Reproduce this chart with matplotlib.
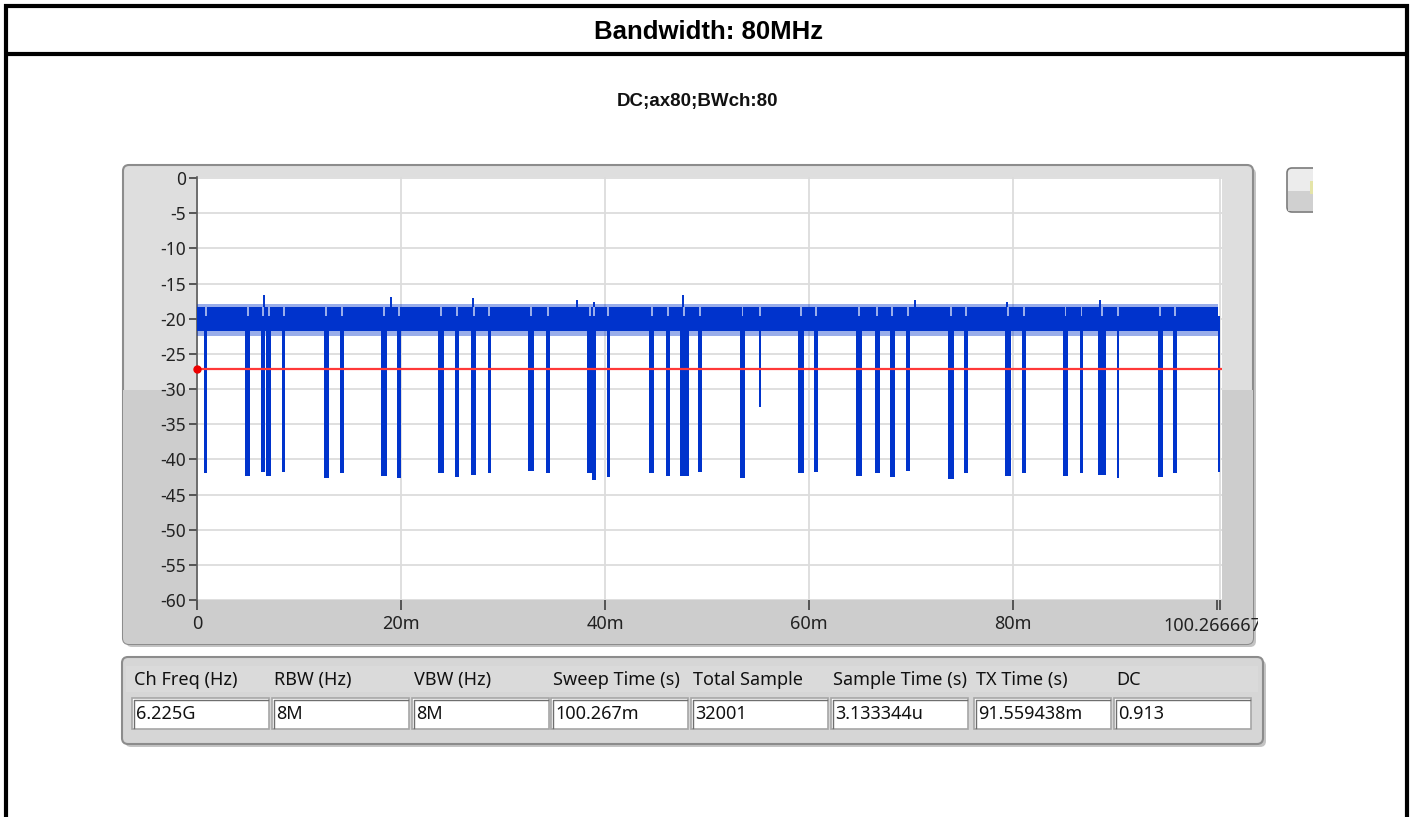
import numpy as np
import matplotlib.pyplot as plt
from matplotlib.patches import FancyBboxPatch, Rectangle
from matplotlib.transforms import Bbox, TransformedBbox

# ---- data ----
title = "Bandwidth: 80MHz"
subtitle = "DC;ax80;BWch:80"

sweep_ms = 100.266667
threshold_db = -27.2

# noise band of the trace (dB): dense core and fuzzy fringe
band_top = -18.4
band_mid = -19.6
band_bot = -21.8
fringe_top = -17.9
fringe_bot = -22.5

# dips: centre (ms), width (ms), lowest value (dB)
dip_ms = [0.85, 4.96, 6.48, 7.04, 8.51, 12.68, 14.21, 18.31, 19.78, 23.92,
          25.45, 27.11, 28.64, 32.72, 34.38, 38.48, 38.95, 40.32, 44.56, 46.13,
          47.75, 49.30, 53.47, 55.17, 59.18, 60.65, 64.89, 66.66, 68.15, 69.72,
          73.87, 75.40, 79.50, 81.04, 85.12, 86.69, 88.70, 90.27, 94.42, 95.89,
          100.19]
dip_w = [0.32, 0.55, 0.38, 0.50, 0.26, 0.55, 0.38, 0.55, 0.38, 0.55,
         0.38, 0.55, 0.32, 0.55, 0.38, 0.55, 0.38, 0.32, 0.55, 0.38,
         0.85, 0.38, 0.55, 0.22, 0.55, 0.38, 0.55, 0.50, 0.50, 0.38,
         0.60, 0.42, 0.55, 0.38, 0.55, 0.38, 0.70, 0.18, 0.50, 0.38,
         0.16]
dip_low = [-42.0, -42.3, -41.8, -42.3, -41.8, -42.6, -42.0, -42.3, -42.6, -41.9,
           -42.5, -42.2, -41.9, -41.7, -42.0, -42.0, -43.0, -42.5, -42.0, -42.3,
           -42.3, -41.8, -42.6, -32.6, -42.0, -41.8, -42.3, -42.0, -42.5, -41.6,
           -42.8, -42.0, -42.3, -42.0, -42.3, -42.0, -42.2, -42.6, -42.5, -42.0,
           -41.8]

# tall spikes above the band: position (ms), peak (dB)
spike_ms = [6.56, 18.99, 27.10, 37.20, 38.90, 47.60, 70.40, 79.40, 88.55]
spike_peak = [-16.6, -16.9, -17.1, -17.4, -17.6, -16.6, -17.4, -17.6, -17.4]

x_ticks = [0, 20, 40, 60, 80, 100]
x_labels = ["0", "20m", "40m", "60m", "80m", ""]
y_ticks = list(range(-60, 1, 5))

col_names = ["Ch Freq (Hz)", "RBW (Hz)", "VBW (Hz)", "Sweep Time (s)",
             "Total Sample", "Sample Time (s)", "TX Time (s)", "DC"]
col_values = ["6.225G", "8M", "8M", "100.267m", "32001", "3.133344u",
              "91.559438m", "0.913"]

BLUE = "#0033CC"
RED = "#FF3838"
W, H = 1413, 817
ui_font = "Noto Sans"

fig = plt.figure(figsize=(W / 100, H / 100), dpi=100)
fig.patch.set_facecolor("white")

# background layer in pixel coordinates
bg = fig.add_axes([0, 0, 1, 1])
bg.set_xlim(0, W)
bg.set_ylim(H, 0)
bg.axis("off")

# outer black frame
for xs, ys in [([6, 6], [4, H]), ([1407, 1407], [4, H]),
               ([4, 1409], [6, 6]), ([4, 1409], [54, 54])]:
    bg.plot(xs, ys, color="black", lw=3.0, solid_capstyle="butt")

bg.text(708, 32, title, ha="center", va="center", fontsize=18.5,
        fontweight="bold", family="Liberation Sans")
bg.text(697, 101, subtitle, ha="center", va="center", fontsize=13.5,
        fontweight="bold", family="Liberation Sans", color="#111111")

# graph panel
bg.add_patch(FancyBboxPatch((126, 168), 1130, 479, boxstyle="round,pad=0,rounding_size=6",
                            fc="#C4C4C4", ec="none"))
panel = FancyBboxPatch((123, 165), 1130, 479, boxstyle="round,pad=0,rounding_size=6",
                       fc="#DEDEDE", ec="#8C8C8C", lw=1.5)
bg.add_patch(panel)
low = Rectangle((123, 390), 1130, 254, fc="#CDCDCD", ec="none")
bg.add_patch(low)
low.set_clip_path(panel)
bg.add_patch(Rectangle((196, 600), 1026, 44, fc="#CDCDCD", ec="none"))

# button stub at top right
bg.add_patch(FancyBboxPatch((1287, 168), 60, 44, boxstyle="round,pad=0,rounding_size=5",
                            fc="#ECECEC", ec="#7A7A7A", lw=1.2))
bg.add_patch(Rectangle((1288, 191), 58, 20, fc="#D0D0D0", ec="none"))
bg.add_patch(Rectangle((1310, 181), 3, 13, fc="#E4E4A8", ec="none"))
bg.add_patch(Rectangle((1313, 160), 90, 60, fc="white", ec="none", zorder=5))

# table panel
bg.add_patch(FancyBboxPatch((125, 660), 1141, 87, boxstyle="round,pad=0,rounding_size=6",
                            fc="#C4C4C4", ec="none"))
bg.add_patch(FancyBboxPatch((122, 657), 1141, 87, boxstyle="round,pad=0,rounding_size=6",
                            fc="#D6D6D6", ec="#8C8C8C", lw=1.5))
bg.add_patch(Rectangle((126, 666), 1132, 26, fc="#DADADA", ec="none"))
col_x = [132, 272, 412, 551, 691, 831, 974, 1114]
for cx, name, val in zip(col_x, col_names, col_values):
    bg.text(cx + 2, 680, name, ha="left", va="center", fontsize=13,
            family=ui_font, color="#111111")
    bg.add_patch(Rectangle((cx, 698), 137, 31, fc="white", ec="#A6A6A6", lw=1.2))
    bg.plot([cx + 1.5, cx + 1.5, cx + 136], [728, 699.5, 699.5], color="#6E6E6E", lw=1.0)
    bg.text(cx + 4, 714, val, ha="left", va="center", fontsize=13,
            family=ui_font, color="#111111")

# ---- the plot itself ----
ax = fig.add_axes([197 / W, (H - 600) / H, (1222 - 197) / W, (600 - 177) / H])
ax.set_facecolor("white")
ax.set_xlim(0, sweep_ms + 0.2)
ax.set_ylim(-60, 0.15)

end_ms = dip_ms[-1] - dip_w[-1] / 2
# fuzzy fringe and dense core of the noise band
ax.fill_between([0, end_ms], fringe_bot, fringe_top, color=BLUE, alpha=0.4, lw=0, zorder=3)
ax.fill_between([0, end_ms], band_bot, band_mid, color=BLUE, lw=0, zorder=3)

# upper part of the band, with a narrow notch above every dip
order = np.argsort(dip_ms)
starts = [0.0]
ends = []
for i in order:
    gap = min(dip_w[i], 0.18) / 2
    ends.append(dip_ms[i] - gap)
    starts.append(dip_ms[i] + gap)
ends.append(end_ms)
for s, e in zip(starts, ends):
    if e > s:
        ax.fill_between([s, e], band_mid, band_top, color=BLUE, lw=0, zorder=3)

ax.bar(dip_ms, np.array(dip_low) - band_mid, bottom=band_mid, width=dip_w,
       color=BLUE, lw=0, zorder=3)
ax.vlines(spike_ms, band_top, spike_peak, color=BLUE, lw=1.4, zorder=3)

ax.axhline(threshold_db, color=RED, lw=1.6, zorder=4)
ax.plot([0], [threshold_db], marker="o", ms=5, color="#EE0000", clip_on=False, zorder=5)

ax.set_yticks(y_ticks)
ax.set_yticklabels([str(v) for v in y_ticks])
ax.set_xticks(x_ticks + [sweep_ms])
ax.set_xticklabels(x_labels + [""])
ax.grid(True, color="#DCDCDC", lw=1.3)
ax.set_axisbelow(True)
for side in ["top", "right", "bottom"]:
    ax.spines[side].set_visible(False)
ax.spines["left"].set_color("#5A5A5A")
ax.spines["left"].set_linewidth(1.2)
ax.tick_params(axis="y", direction="out", length=6, width=1.2, color="#404040",
               labelsize=12.5, pad=2, labelcolor="#222222")
ax.tick_params(axis="x", direction="out", length=7, width=1.2, color="#404040",
               labelsize=13, pad=4, labelcolor="#222222")
for lab in ax.get_xticklabels() + ax.get_yticklabels():
    lab.set_family(ui_font)
ax.xaxis.get_major_ticks()[5].gridline.set_visible(False)

last = bg.text(1221, 626, "100.266667m", ha="center", va="center", fontsize=13,
               family=ui_font, color="#222222", clip_on=True)
last.set_clip_path(None)
last.set_clip_box(TransformedBbox(Bbox.from_extents(0, 0, 1258, H), bg.transData))

fig.savefig("out.png", dpi=100)
